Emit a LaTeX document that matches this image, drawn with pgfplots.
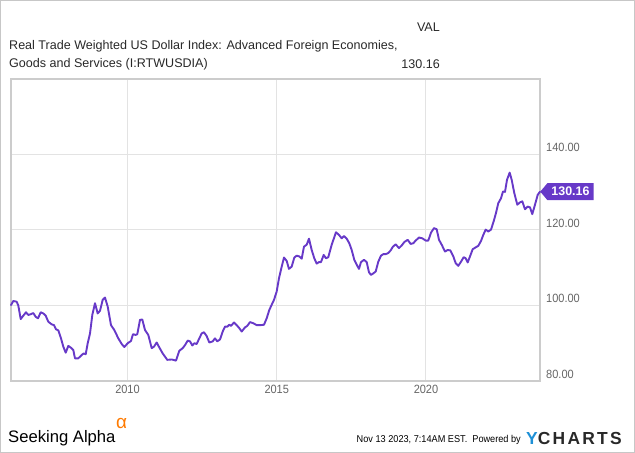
\documentclass[border=0pt]{standalone}
\usepackage{pgfplots}
\pgfplotsset{compat=1.18}
\usepackage{fontspec}
\setmainfont{Liberation Sans}
\newfontfamily\titlefont{Liberation Sans}
\newfontfamily\narrowfont[FakeStretch=0.92]{Liberation Sans}
\usetikzlibrary{shapes.symbols}
\definecolor{lineP}{RGB}{103,57,200}
\definecolor{txt}{RGB}{40,40,40}
\definecolor{tick}{RGB}{102,102,102}
\definecolor{saorange}{RGB}{255,122,0}
\definecolor{ycblue}{RGB}{30,144,214}
\pgfplotstableread{
year value
2006.097 100.1
2006.174 101.2
2006.288 101.0
2006.342 100.0
2006.422 96.4
2006.509 97.3
2006.600 98.2
2006.677 97.5
2006.767 97.7
2006.844 98.0
2006.925 97.0
2007.002 96.6
2007.092 98.2
2007.179 97.9
2007.260 97.3
2007.347 95.7
2007.461 95.0
2007.538 94.8
2007.605 93.7
2007.682 93.4
2007.772 91.3
2007.849 89.1
2007.930 87.5
2008.017 89.3
2008.107 88.8
2008.184 88.2
2008.241 86.0
2008.352 86.0
2008.466 86.9
2008.533 87.3
2008.600 87.1
2008.667 90.0
2008.744 92.6
2008.821 97.5
2008.911 100.6
2009.002 97.9
2009.079 98.6
2009.169 101.5
2009.246 102.1
2009.337 99.7
2009.447 94.8
2009.558 93.5
2009.692 91.3
2009.806 89.8
2009.893 89.0
2010.007 90.0
2010.117 90.6
2010.184 92.4
2010.275 92.2
2010.328 92.4
2010.419 96.2
2010.496 96.3
2010.586 93.5
2010.697 92.2
2010.811 88.7
2010.888 89.1
2010.978 90.2
2011.065 88.9
2011.179 87.3
2011.333 85.6
2011.481 85.7
2011.625 85.4
2011.735 88.0
2011.849 88.7
2011.926 89.5
2012.017 90.7
2012.094 90.5
2012.171 89.4
2012.238 90.0
2012.318 89.8
2012.405 91.3
2012.486 92.6
2012.563 92.9
2012.653 91.9
2012.740 90.2
2012.854 90.5
2012.931 91.3
2013.008 90.5
2013.099 91.0
2013.189 93.1
2013.266 94.4
2013.343 94.4
2013.410 94.9
2013.467 94.6
2013.568 95.5
2013.658 94.8
2013.745 94.0
2013.826 93.1
2013.936 94.2
2014.013 94.6
2014.104 95.6
2014.214 95.3
2014.328 94.8
2014.462 94.8
2014.573 94.9
2014.663 96.6
2014.750 98.8
2014.831 100.2
2014.908 101.5
2014.998 103.7
2015.075 107.2
2015.166 110.3
2015.243 112.7
2015.333 111.8
2015.410 109.7
2015.501 110.3
2015.588 112.7
2015.668 113.2
2015.755 113.0
2015.836 112.4
2015.913 115.6
2016.003 116.1
2016.080 117.7
2016.171 114.7
2016.258 112.5
2016.338 111.1
2016.415 111.5
2016.482 111.5
2016.573 113.4
2016.650 112.5
2016.727 112.8
2016.841 116.1
2016.985 119.4
2017.085 118.7
2017.176 117.8
2017.253 118.4
2017.343 117.7
2017.430 116.5
2017.511 114.7
2017.598 112.1
2017.678 110.8
2017.755 109.7
2017.822 111.5
2017.923 112.1
2018.013 111.5
2018.090 108.8
2018.157 108.1
2018.235 108.5
2018.315 109.0
2018.402 111.6
2018.492 113.2
2018.569 113.6
2018.650 113.6
2018.737 113.9
2018.817 114.6
2018.894 115.6
2018.985 116.2
2019.095 115.2
2019.186 115.9
2019.273 116.8
2019.387 117.4
2019.487 116.3
2019.575 116.5
2019.655 117.2
2019.765 118.0
2019.876 117.8
2019.990 117.2
2020.077 117.2
2020.168 119.3
2020.268 120.5
2020.358 120.2
2020.436 117.4
2020.526 116.1
2020.637 114.3
2020.727 114.7
2020.814 114.6
2020.915 113.0
2020.995 111.2
2021.082 110.5
2021.173 111.6
2021.263 112.8
2021.330 112.5
2021.397 111.4
2021.474 113.0
2021.564 114.9
2021.665 115.4
2021.752 115.8
2021.843 117.1
2021.920 118.7
2022.000 120.1
2022.087 119.6
2022.178 120.1
2022.268 122.3
2022.345 124.5
2022.422 127.1
2022.513 128.4
2022.580 130.2
2022.647 130.1
2022.714 133.3
2022.804 135.2
2022.871 133.3
2022.958 129.8
2023.059 126.7
2023.149 127.3
2023.226 127.6
2023.317 125.5
2023.407 126.2
2023.484 126.0
2023.561 124.2
2023.652 126.7
2023.742 129.3
2023.820 130.16
}\usd
\begin{document}
\begin{tikzpicture}[x=1bp,y=1bp]
\path[use as bounding box] (0,0) rectangle (635,453);
\draw[color=black!22, line width=1bp] (0.5,0.5) rectangle (634.5,452.5);
% header
\node[anchor=east, inner sep=0, text=txt, font=\titlefont\fontsize{12.6}{14}\selectfont] at (440,426) {VAL};
\node[anchor=west, inner sep=0, text=txt, font=\titlefont\fontsize{12.6}{14}\selectfont] at (9,407) {Real Trade Weighted US Dollar Index: Advanced Foreign Economies,};
\node[anchor=west, inner sep=0, text=txt, font=\titlefont\fontsize{12.6}{14}\selectfont] at (9,389) {Goods and Services (I:RTWUSDIA)};
\node[anchor=east, inner sep=0, text=txt, font=\titlefont\fontsize{12.6}{14}\selectfont] at (440,389) {130.16};
\begin{axis}[
  at={(11bp,72bp)}, anchor=south west, scale only axis,
  width=529bp, height=302bp,
  xmin=2006.097, xmax=2023.82, ymin=80, ymax=160,
  axis line style={draw=black!20, line width=1.3bp},
  xtick={2010,2015,2020}, xticklabels={2010,2015,2020},
  ytick={80,100,120,140}, yticklabels={80.00,100.00,120.00,140.00},
  grid=major, major grid style={draw=black!11, line width=1bp},
  tick style={draw=none},
  yticklabel pos=right,
  yticklabel style={anchor=base west, inner sep=0, xshift=6bp, yshift=2.5bp, text=tick, font=\narrowfont\fontsize{12}{13}\selectfont},
  xticklabel style={anchor=base, inner sep=0, yshift=-13bp, text=tick, font=\narrowfont\fontsize{12}{13}\selectfont},
  clip=false,
]
\addplot[lineP, line width=1.9bp, line join=round, line cap=round] table[x=year,y=value] {\usd};
\node[signal, signal to=west, signal pointer angle=100, fill=lineP, text=white, inner xsep=4bp, inner ysep=2.5bp, minimum height=17bp, anchor=west, font=\bfseries\fontsize{12.5}{13}\selectfont] at (axis cs:2023.82,130.16) {130.16};
\end{axis}
% footer
\node[anchor=west, inner sep=0, text=black, font=\fontsize{16.7}{19}\selectfont] at (8,15) {Seeking Alpha};
\node[anchor=west, inner sep=0, text=saorange, font=\fontsize{19}{20}\selectfont] at (116,29) {α};
\node[anchor=east, inner sep=0, text=black, font=\narrowfont\fontsize{10}{12}\selectfont] at (521,13) {Nov 13 2023, 7:14AM EST.\ \ Powered by};
\node[anchor=west, inner sep=0, font=\bfseries\fontsize{17.5}{18}\selectfont\addfontfeatures{LetterSpace=13}] at (526,14) {\textcolor{ycblue}{Y}\textcolor{txt}{CHARTS}};
\end{tikzpicture}
\end{document}
